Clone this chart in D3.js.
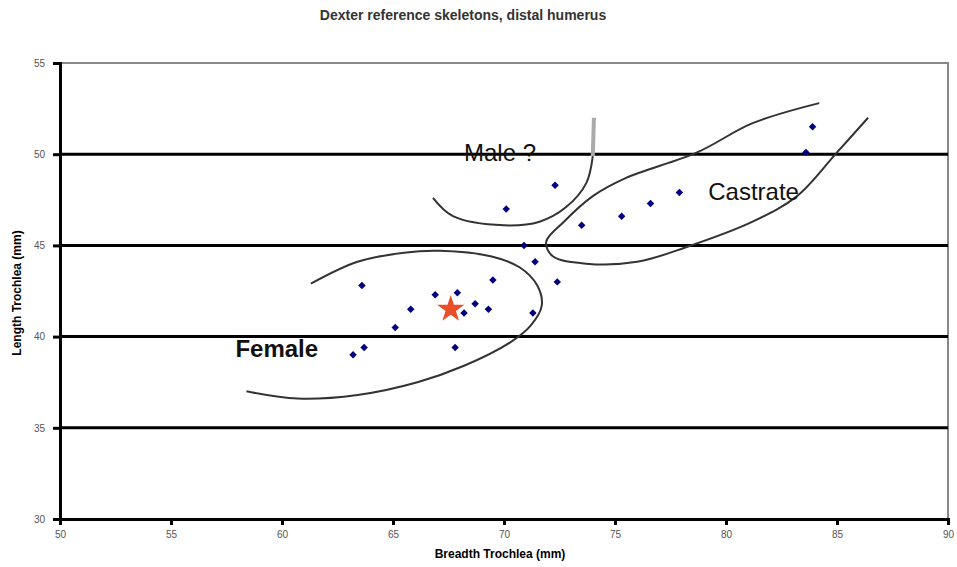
<!DOCTYPE html>
<html>
<head>
<meta charset="utf-8">
<script src="https://cdn.jsdelivr.net/npm/d3@7"></script>
<style>
  body { margin: 0; background: #fff; }
  text { font-family: "Liberation Sans", Arial, sans-serif; }
</style>
</head>
<body>
<div id="chart"></div>
<script>
// breadth / length of the trochlea (mm), one entry per specimen
const breadth = [63.6, 65.8, 66.9, 67.9, 68.2, 68.7, 65.1, 63.7, 63.2, 67.8,
                 69.5, 69.3, 71.3, 72.4, 71.4, 72.3, 70.1, 73.5, 70.9, 75.3,
                 76.6, 77.9, 83.9, 83.6];
const length  = [42.8, 41.5, 42.3, 42.4, 41.3, 41.8, 40.5, 39.4, 39.0, 39.4,
                 43.1, 41.5, 41.3, 43.0, 44.1, 48.3, 47.0, 46.1, 45.0, 46.6,
                 47.3, 47.9, 51.5, 50.1];
// the specimen in question
const starPoint = [67.6, 41.5];

const xTicks = [50, 55, 60, 65, 70, 75, 80, 85, 90];
const yTicks = [30, 35, 40, 45, 50, 55];
const gridValues = [35, 40, 45, 50];

// hand drawn group outlines (data units)
const femaleCurve = [[61.3,42.9],[63.4,44.1],[65.5,44.6],[67.1,44.7],[69.4,44.4],[70.7,43.8],
  [71.5,42.8],[71.7,41.7],[71.2,40.6],[70.3,39.7],[68.2,38.4],[66.1,37.5],[63.4,36.8],
  [60.7,36.6],[58.4,37.0]];
const maleCurve = [[66.8,47.6],[67.7,46.6],[70.0,46.1],[71.6,46.3],[72.8,47.1],[73.7,48.4],[74.0,49.9]];
const maleCurveTop = [[74.0,49.9],[74.05,52.0]];
const castrateCurve = [[84.2,52.8],[81.2,51.7],[78.7,50.1],[75.5,48.7],[74.0,47.7],[72.7,46.3],
  [71.9,45.2],[72.2,44.4],[73.7,44.0],[76.0,44.1],[78.2,44.9],[81.2,46.3],[83.2,47.7],
  [85.0,50.1],[86.4,52.0]];
const groupLabels = [
  { text: "Male ?", x: 68.2, y: 49.6, weight: "normal" },
  { text: "Castrate", x: 79.2, y: 47.5, weight: "normal" },
  { text: "Female", x: 57.9, y: 38.9, weight: "bold" }
];

const W = 957, H = 567;
const svg = d3.select("#chart").append("svg")
  .attr("width", W).attr("height", H);

const x = d3.scaleLinear().domain([50, 90]).range([60, 948]);
const y = d3.scaleLinear().domain([30, 55]).range([519, 63]);

// title
svg.append("text")
  .attr("x", 463).attr("y", 20)
  .attr("text-anchor", "middle")
  .style("font-size", "14px").style("font-weight", "bold").style("fill", "#333")
  .text("Dexter reference skeletons, distal humerus");

// plot frame (top / right grey)
svg.append("path")
  .attr("d", `M${x(50)},${y(55)}H${x(90)}V${y(30)}`)
  .attr("fill", "none").attr("stroke", "#888").attr("stroke-width", 2);

// gridlines
svg.selectAll(".grid").data(gridValues).enter().append("line")
  .attr("x1", x(50)).attr("x2", x(90))
  .attr("y1", d => y(d)).attr("y2", d => y(d))
  .attr("stroke", "#000").attr("stroke-width", 3);

// axes
const xAxis = svg.append("g")
  .attr("transform", `translate(0,${y(30)})`)
  .call(d3.axisBottom(x).tickValues(xTicks).tickSize(6).tickPadding(6));
const yAxis = svg.append("g")
  .attr("transform", `translate(${x(50)},0)`)
  .call(d3.axisLeft(y).tickValues(yTicks).tickSize(7).tickPadding(8));
[xAxis, yAxis].forEach(g => {
  g.select(".domain").attr("stroke", "#000").attr("stroke-width", 3);
  g.selectAll(".tick line").attr("stroke", "#000").attr("stroke-width", 3);
  g.selectAll(".tick text")
    .style("font-size", "10px").style("font-family", "Liberation Sans, Arial, sans-serif")
    .style("fill", "#555");
});

// axis titles
svg.append("text")
  .attr("x", 500).attr("y", 558)
  .attr("text-anchor", "middle")
  .style("font-size", "12px").style("font-weight", "bold")
  .text("Breadth Trochlea (mm)");
svg.append("text")
  .attr("transform", "translate(21,293) rotate(-90)")
  .attr("text-anchor", "middle")
  .style("font-size", "12px").style("font-weight", "bold")
  .text("Length Trochlea (mm)");

// outlines
const line = d3.line().x(d => x(d[0])).y(d => y(d[1])).curve(d3.curveCatmullRom);
[femaleCurve, maleCurve, castrateCurve].forEach(c => {
  svg.append("path").attr("d", line(c))
    .attr("fill", "none").attr("stroke", "#333").attr("stroke-width", 2);
});
svg.append("path").attr("d", line(maleCurveTop))
  .attr("fill", "none").attr("stroke", "#aaa").attr("stroke-width", 4);

// points
const pts = breadth.map((b, i) => [b, length[i]]);
svg.selectAll(".pt").data(pts).enter().append("path")
  .attr("d", d3.symbol().type(d3.symbolSquare).size(28))
  .attr("transform", d => `translate(${x(d[0])},${y(d[1])}) rotate(45)`)
  .attr("fill", "#000080");

svg.append("path")
  .attr("d", d3.symbol().type(d3.symbolStar).size(230))
  .attr("transform", `translate(${x(starPoint[0])},${y(starPoint[1])})`)
  .attr("fill", "#e9502a");

// group labels
svg.selectAll(".lbl").data(groupLabels).enter().append("text")
  .attr("x", d => x(d.x)).attr("y", d => y(d.y))
  .style("font-size", "24px").style("font-weight", d => d.weight)
  .style("fill", "#111")
  .text(d => d.text);
</script>
</body>
</html>
